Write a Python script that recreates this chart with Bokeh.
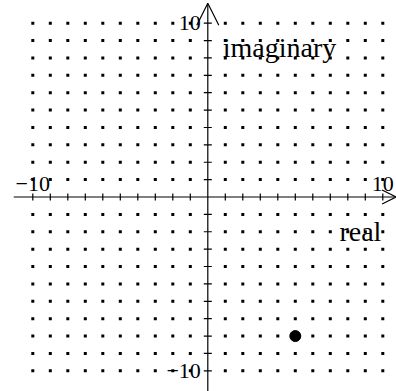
from bokeh.plotting import figure
from bokeh.models import Arrow, OpenHead
from bokeh.core.properties import value
from bokeh.embed import file_html
from bokeh.resources import INLINE

# ---- data ----
grid_re = list(range(-10, 11))
grid_im = list(range(-10, 11))
point_re = [5]
point_im = [-8]
x_tick_vals = [-10, 10]
x_tick_text = ["\u221210", "10"]
y_tick_vals = [10, -10]
y_tick_text = ["10", "\u221210"]
axis_labels = ["imaginary", "real"]

# ---- figure ----
p = figure(width=396, height=391, output_backend="svg", toolbar_location=None,
           x_range=(-11.846, 10.783), y_range=(-11.191, 11.306),
           x_axis_type=None, y_axis_type=None, min_border=0)
p.grid.visible = False
p.outline_line_color = None
p.background_fill_color = "white"
p.border_fill_color = "white"

# dotted lattice (all integer points off the axes)
dx, dy = [], []
for a in grid_re:
    for b in grid_im:
        if a != 0 and b != 0:
            dx.append(a)
            dy.append(b)
p.scatter(dx, dy, marker="square", size=3, color="black", line_color=None)

# axes with open arrow heads
p.add_layout(Arrow(end=OpenHead(size=14, line_color="black", line_width=1.2),
                   x_start=-11.09, y_start=0, x_end=10.76, y_end=0,
                   line_color="black", line_width=1.2))
p.add_layout(Arrow(end=OpenHead(size=22, line_color="black", line_width=1.2),
                   x_start=0, y_start=-11.19, x_end=0, y_end=11.15,
                   line_color="black", line_width=1.2))

# tick marks
tx = [v for v in grid_re if v != 0]
p.segment(x0=tx, y0=[-0.2] * len(tx), x1=tx, y1=[0.2] * len(tx),
          line_color="black", line_width=1.2)
ty = [v for v in grid_im if v != 0]
p.segment(x0=[-0.23] * len(ty), y0=ty, x1=[0.23] * len(ty), y1=ty,
          line_color="black", line_width=1.2)

# tick labels
font = value("Liberation Serif")
p.text(x=x_tick_vals, y=[0, 0], text=x_tick_text, text_font=font,
       text_font_size="22px", text_align="center", text_baseline="alphabetic",
       y_offset=-13, text_color="black")
p.text(x=[0, 0], y=y_tick_vals, text=y_tick_text, text_font=font,
       text_font_size="22px", text_align="right", text_baseline="middle",
       x_offset=-7, text_color="black")

# axis labels
p.text(x=[0.857], y=[8.62], text=[axis_labels[0]], text_font=font,
       text_font_size="28px", text_align="left", text_baseline="alphabetic",
       text_color="black")
p.text(x=[9.92], y=[-1.985], text=[axis_labels[1]], text_font=font,
       text_font_size="28px", text_align="right", text_baseline="alphabetic",
       text_color="black")

# the plotted complex number
p.scatter(point_re, point_im, marker="circle", size=11, color="black")

open("out.html", "w").write(file_html(p, INLINE))
